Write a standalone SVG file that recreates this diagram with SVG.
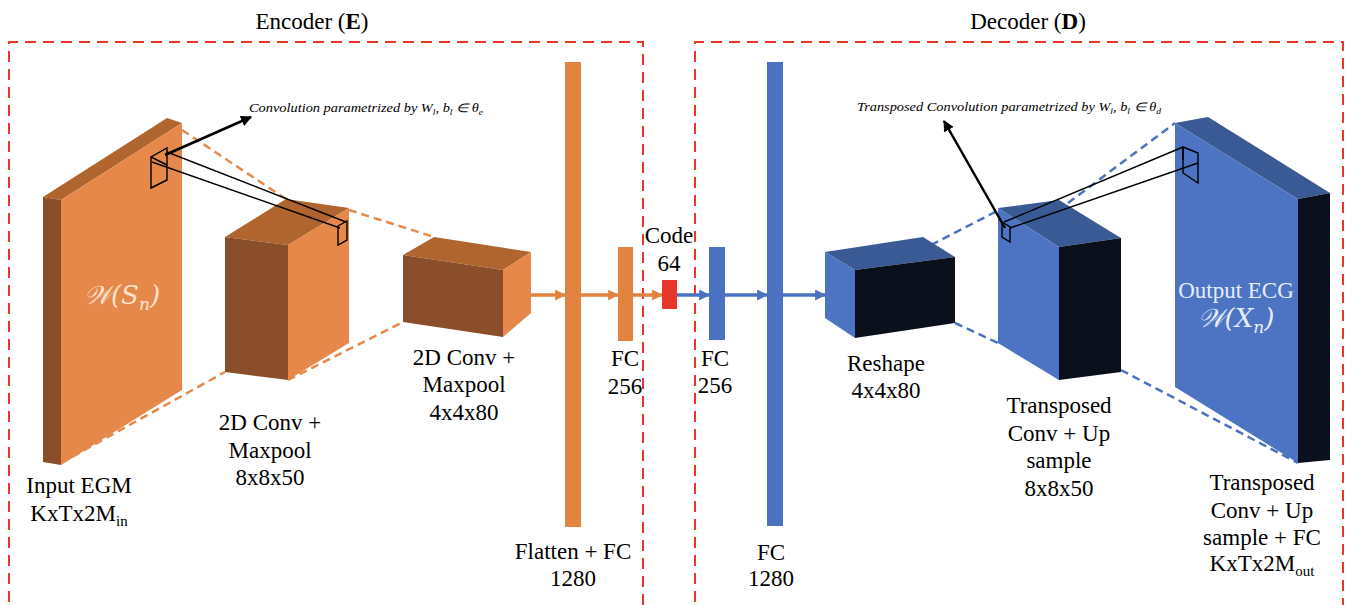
<svg xmlns="http://www.w3.org/2000/svg" width="1348" height="605" viewBox="0 0 1348 605">
<defs>
<style>
.t{font-family:"Liberation Serif","Times New Roman",serif;font-size:23px;fill:#000;text-anchor:middle}
.tw{font-family:"Liberation Serif","Times New Roman",serif;font-size:23px;fill:#E6ECF8;text-anchor:middle}
.ti{font-family:"Liberation Serif","Times New Roman",serif;font-style:italic;font-size:12px;fill:#000}
.m{font-family:"DejaVu Serif","Liberation Serif",serif;font-style:italic;font-size:26px;text-anchor:middle}
.box{fill:none;stroke:#E8352A;stroke-width:2;stroke-dasharray:11,7}
.od{stroke:#E58A4A;stroke-width:2.5;stroke-dasharray:8,5;fill:none}
.bd{stroke:#4A72C0;stroke-width:2.5;stroke-dasharray:8,5;fill:none}
.oa{stroke:#E2843F;stroke-width:3.5;fill:none}
.ba{stroke:#4A72C0;stroke-width:3.5;fill:none}
.ka{stroke:#000;stroke-width:2.5;fill:none}
.kw{stroke:#000;stroke-width:1.4;fill:none}
.ofront{fill:#E5884A}
.oside{fill:#8A4F2A}
.otop{fill:#B0652F}
.bfront{fill:#4D74C3}
.bblack{fill:#0A0F1C}
.btop{fill:#3A5A96}
</style>
<marker id="mo" viewBox="0 0 10 10" refX="9" refY="5" markerWidth="11" markerHeight="11" markerUnits="userSpaceOnUse" orient="auto"><path d="M0,0L10,5L0,10z" fill="#E2843F"/></marker>
<marker id="mb" viewBox="0 0 10 10" refX="9" refY="5" markerWidth="11" markerHeight="11" markerUnits="userSpaceOnUse" orient="auto"><path d="M0,0L10,5L0,10z" fill="#4A72C0"/></marker>
<marker id="mk" viewBox="0 0 10 10" refX="9" refY="5" markerWidth="11" markerHeight="11" markerUnits="userSpaceOnUse" orient="auto"><path d="M0,0L10,5L0,10z" fill="#000"/></marker>
</defs>
<rect width="1348" height="605" fill="#fff"/>

<g id="encoder-frame">
<path class="box" d="M9,620V42H643V620"/>
<text class="t" x="312" y="29">Encoder (<tspan font-weight="bold">E</tspan>)</text>
</g>
<g id="decoder-frame">
<path class="box" d="M695,620V42H1343V620"/>
<text class="t" x="1028" y="29">Decoder (<tspan font-weight="bold">D</tspan>)</text>
</g>

<g id="connectors">
<line class="od" x1="182" y1="130" x2="286" y2="199"/>
<line class="od" x1="349" y1="210" x2="434" y2="237"/>
<line class="od" x1="61" y1="463" x2="225" y2="372"/>
<line class="od" x1="288" y1="380" x2="403" y2="322"/>
<line class="bd" x1="931" y1="245" x2="999" y2="210"/>
<line class="bd" x1="1068" y1="203" x2="1175" y2="123"/>
<line class="bd" x1="955" y1="323" x2="998" y2="343"/>
<line class="bd" x1="1121" y1="370" x2="1298" y2="463"/>
<line class="oa" x1="531" y1="295" x2="565" y2="295" marker-end="url(#mo)"/>
<line class="oa" x1="581" y1="295" x2="618" y2="295" marker-end="url(#mo)"/>
<line class="oa" x1="633" y1="295" x2="662" y2="295" marker-end="url(#mo)"/>
<line class="ba" x1="677" y1="295" x2="709" y2="295" marker-end="url(#mb)"/>
<line class="ba" x1="725" y1="295" x2="767" y2="295" marker-end="url(#mb)"/>
<line class="ba" x1="783" y1="295" x2="825" y2="295" marker-end="url(#mb)"/>
</g>

<g id="input-egm">
<polygon class="otop" points="43,197 167,118 182,123 61,200"/>
<polygon class="oside" points="43,197 61,200 61,465 43,462"/>
<polygon class="ofront" points="61,200 182,123 182,390 61,465"/>
<text class="m" x="122" y="304" fill="#FBE3CF">𝒲(<tspan>S</tspan><tspan font-size="17" dy="6">n</tspan><tspan dy="-6">)</tspan></text>
<text class="t" x="79" y="493">Input EGM</text>
<text class="t" x="79" y="521">KxTx2M<tspan font-size="15" dy="5">in</tspan></text>
</g>

<g id="conv1">
<polygon class="otop" points="225,237 286,199 349,208 288,245"/>
<polygon class="oside" points="225,237 288,245 288,380 225,372"/>
<polygon class="ofront" points="288,245 349,208 349,343 288,380"/>
<text class="t" x="270" y="430">2D Conv +</text>
<text class="t" x="270" y="458">Maxpool</text>
<text class="t" x="270" y="485">8x8x50</text>
</g>

<g id="conv2">
<polygon class="otop" points="403,255 434,237 531,252 503,270"/>
<polygon class="oside" points="403,255 503,270 503,337 403,322"/>
<polygon class="ofront" points="503,270 531,252 531,313 503,337"/>
<text class="t" x="464" y="365">2D Conv +</text>
<text class="t" x="464" y="392">Maxpool</text>
<text class="t" x="464" y="420">4x4x80</text>
</g>

<g id="enc-window">
<polygon class="kw" points="151,157 167,148 167,180 151,188"/>
<line class="kw" x1="151" y1="157" x2="167" y2="165"/>
<line class="kw" x1="167" y1="152" x2="346" y2="222"/>
<line class="kw" x1="152" y1="162" x2="340" y2="228"/>
<polygon class="kw" points="338,226 347,221 347,240 338,245"/>
<line class="ka" x1="165" y1="155" x2="251" y2="117" marker-end="url(#mk)"/>
<text class="ti" x="249" y="112" textLength="234" lengthAdjust="spacingAndGlyphs">Convolution parametrized by W<tspan font-size="8" dy="3">l</tspan><tspan dy="-3">, b</tspan><tspan font-size="8" dy="3">l</tspan><tspan dy="-3"> ∈ θ</tspan><tspan font-size="8" dy="3">e</tspan></text>
</g>

<g id="flatten-fc">
<rect x="565" y="62" width="16" height="465" fill="#E2843F"/>
<text class="t" x="573" y="559">Flatten + FC</text>
<text class="t" x="573" y="586">1280</text>
</g>

<g id="enc-fc256">
<rect x="618" y="247" width="15" height="94" fill="#E2843F"/>
<text class="t" x="625" y="366">FC</text>
<text class="t" x="625" y="394">256</text>
</g>

<g id="code">
<rect x="662" y="280" width="15" height="29" fill="#E8352A"/>
<text class="t" x="669" y="243">Code</text>
<text class="t" x="669" y="271">64</text>
</g>

<g id="dec-fc256">
<rect x="709" y="247" width="16" height="93" fill="#4A72C0"/>
<text class="t" x="715" y="366">FC</text>
<text class="t" x="715" y="393">256</text>
</g>

<g id="dec-fc1280">
<rect x="767" y="62" width="16" height="464" fill="#4A72C0"/>
<text class="t" x="771" y="560">FC</text>
<text class="t" x="771" y="586">1280</text>
</g>

<g id="reshape">
<polygon class="btop" points="825,252 923,237 955,257 855,270"/>
<polygon class="bfront" points="825,252 855,270 855,338 825,318"/>
<polygon class="bblack" points="855,270 955,257 955,323 855,338"/>
<text class="t" x="886" y="371">Reshape</text>
<text class="t" x="886" y="398">4x4x80</text>
</g>

<g id="tconv1">
<polygon class="btop" points="998,208 1059,200 1121,238 1059,247"/>
<polygon class="bfront" points="998,208 1059,247 1059,380 998,343"/>
<polygon class="bblack" points="1059,247 1121,238 1121,372 1059,380"/>
<text class="t" x="1059" y="413">Transposed</text>
<text class="t" x="1059" y="441">Conv + Up</text>
<text class="t" x="1059" y="468">sample</text>
<text class="t" x="1059" y="496">8x8x50</text>
</g>

<g id="output-ecg">
<polygon class="btop" points="1175,123 1208,117 1330,193 1298,199"/>
<polygon class="bfront" points="1175,123 1298,199 1298,463 1175,387"/>
<polygon class="bblack" points="1298,199 1330,193 1330,460 1298,463"/>
<text class="tw" x="1236" y="298">Output ECG</text>
<text class="m" x="1236" y="327" fill="#E6ECF8">𝒲(<tspan>X</tspan><tspan font-size="17" dy="6">n</tspan><tspan dy="-6">)</tspan></text>
<text class="t" x="1262" y="490">Transposed</text>
<text class="t" x="1262" y="518">Conv + Up</text>
<text class="t" x="1262" y="545">sample + FC</text>
<text class="t" x="1262" y="571">KxTx2M<tspan font-size="15" dy="5">out</tspan></text>
</g>

<g id="dec-window">
<polygon class="kw" points="1183,147 1198,153 1198,183 1183,173"/>
<line class="kw" x1="1183" y1="147" x2="1183" y2="160"/>
<line class="kw" x1="1183" y1="147" x2="1004" y2="222"/>
<line class="kw" x1="1198" y1="163" x2="1010" y2="228"/>
<polygon class="kw" points="1002,222 1010,227 1010,242 1002,237"/>
<line class="ka" x1="1005" y1="228" x2="944" y2="121" marker-end="url(#mk)"/>
<text class="ti" x="857" y="111" textLength="304" lengthAdjust="spacingAndGlyphs">Transposed Convolution parametrized by W<tspan font-size="8" dy="3">l</tspan><tspan dy="-3">, b</tspan><tspan font-size="8" dy="3">l</tspan><tspan dy="-3"> ∈ θ</tspan><tspan font-size="8" dy="3">d</tspan></text>
</g>
</svg>
